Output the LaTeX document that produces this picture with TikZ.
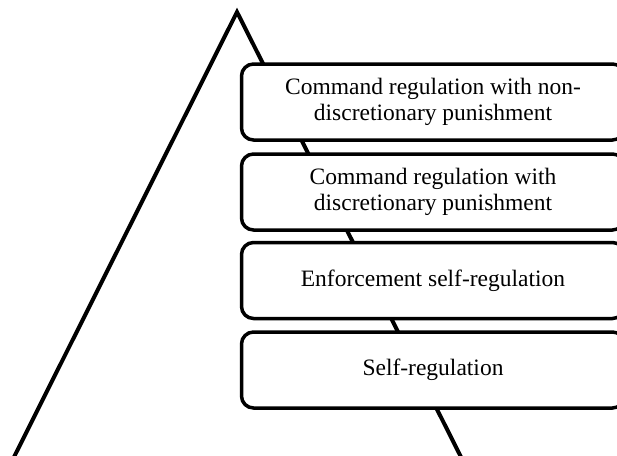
\documentclass[tikz,border=0pt]{standalone}
\usepackage{fontspec}
\setmainfont{Liberation Serif}
\begin{document}
\begin{tikzpicture}[x=1pt,y=-1pt]
\tikzset{tier/.style={draw=black, line width=3.5pt, fill=white, rounded corners=12pt,
  minimum width=383pt, minimum height=76pt, align=center,
  font=\fontsize{23.5}{26}\selectfont, inner sep=0pt}}
\useasboundingbox (0,0) rectangle (617,455);
\begin{scope}
\clip (0,0) rectangle (617,455);
\coordinate (apex) at (237,12);
\coordinate (bl) at (13,459);
\coordinate (br) at (462,459);
\draw[line width=4pt, line join=miter] (bl) -- (apex) -- (br);
\node[tier] (t1) at (433,102) {Command regulation with non-\\discretionary punishment};
\node[tier] (t2) at (433,192) {Command regulation with\\discretionary punishment};
\node[tier] (t3) at (433,280.5) {Enforcement self-regulation};
\node[tier] (t4) at (433,370) {Self-regulation};
\end{scope}
\end{tikzpicture}
\end{document}
